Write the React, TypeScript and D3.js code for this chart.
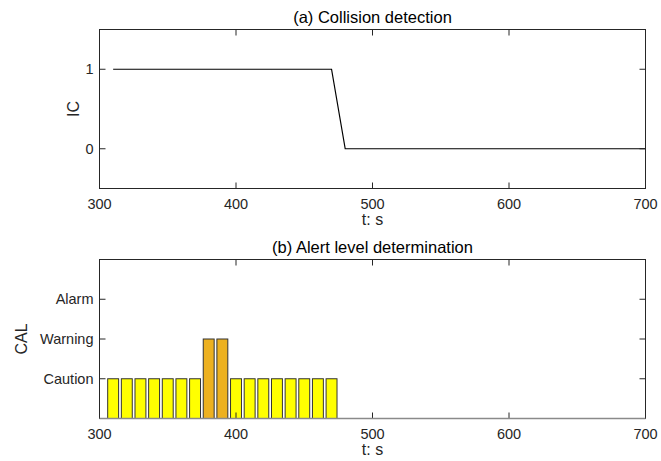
import React from "react";
import * as d3 from "d3";

// ---- Data ----
const icTime = [310, 320, 330, 340, 350, 360, 370, 380, 390, 400, 410, 420, 430, 440, 450, 460, 470, 480, 490, 500, 510, 520, 530, 540, 550, 560, 570, 580, 590, 600, 610, 620, 630, 640, 650, 660, 670, 680, 690, 700];
const icValue = [1, 1, 1, 1, 1, 1, 1, 1, 1, 1, 1, 1, 1, 1, 1, 1, 1, 0, 0, 0, 0, 0, 0, 0, 0, 0, 0, 0, 0, 0, 0, 0, 0, 0, 0, 0, 0, 0, 0, 0];

const calTime = [310, 320, 330, 340, 350, 360, 370, 380, 390, 400, 410, 420, 430, 440, 450, 460, 470];
const calValue = [1, 1, 1, 1, 1, 1, 1, 2, 2, 1, 1, 1, 1, 1, 1, 1, 1];

const xTicks = [300, 400, 500, 600, 700];
const icTicks = [0, 1];
const calTicks = [1, 2, 3];
const calTickLabels = ["Caution", "Warning", "Alarm"];

const titleA = "(a) Collision detection";
const titleB = "(b) Alert level determination";
const xLabel = "t: s";

// ---- Layout ----
const W = 661;
const H = 461;
const LEFT = 99.5;
const RIGHT = 645.5;
const AX = "#262626";
const FONT = "'Liberation Sans', Arial, Helvetica, sans-serif";
const TICK = 6;

const x = d3.scaleLinear().domain([300, 700]).range([LEFT, RIGHT]);
const yTop = d3.scaleLinear().domain([-0.5, 1.5]).range([188.5, 29.5]);
const yBot = d3.scaleLinear().domain([0, 4]).range([418.5, 259.5]);

function Frame({ y, yTicks, yLabels, title, ylabel, ylabelX }: any) {
  const [y0, y1] = y.range();
  return (
    <g>
      <rect x={LEFT} y={y1} width={RIGHT - LEFT} height={y0 - y1} fill="none" stroke={AX} strokeWidth={1} />
      {xTicks.map((t) => (
        <g key={"xt" + t}>
          <line x1={x(t)} x2={x(t)} y1={y0} y2={y0 - TICK} stroke={AX} />
          <line x1={x(t)} x2={x(t)} y1={y1} y2={y1 + TICK} stroke={AX} />
          <text x={x(t)} y={y0 + 20} textAnchor="middle" fontSize={14.5} fill={AX} fontFamily={FONT}>{t}</text>
        </g>
      ))}
      {yTicks.map((v: number, i: number) => (
        <g key={"yt" + v}>
          <line x1={LEFT} x2={LEFT + TICK} y1={y(v)} y2={y(v)} stroke={AX} />
          <line x1={RIGHT} x2={RIGHT - TICK} y1={y(v)} y2={y(v)} stroke={AX} />
          <text x={LEFT - 6} y={y(v)} dy="0.36em" textAnchor="end" fontSize={14.5} fill={AX} fontFamily={FONT}>{yLabels[i]}</text>
        </g>
      ))}
      <text x={(LEFT + RIGHT) / 2} y={y1 - 7} textAnchor="middle" fontSize={16.5} fill="#000" fontFamily={FONT}>{title}</text>
      <text x={(LEFT + RIGHT) / 2} y={y0 + 36} textAnchor="middle" fontSize={16} fill={AX} fontFamily={FONT}>{xLabel}</text>
      <text transform={`translate(${ylabelX},${(y0 + y1) / 2}) rotate(-90)`} textAnchor="middle" fontSize={16} fill={AX} fontFamily={FONT}>{ylabel}</text>
    </g>
  );
}

export default function App() {
  const line = d3.line<number>().x((_, i) => x(icTime[i])).y((d) => yTop(d));
  const barHalf = 4;
  return (
    <svg width={W} height={H} style={{ position: "absolute", left: 0, top: 0, background: "#fff" }}>
      <rect width={W} height={H} fill="#fff" />
      {/* Top panel */}
      <path d={line(icValue) || ""} fill="none" stroke="#000" strokeWidth={1.2} />
      <Frame y={yTop} yTicks={icTicks} yLabels={icTicks.map(String)} title={titleA} ylabel="IC" ylabelX={79} />

      {/* Bottom panel */}
      {calTime.map((t, i) => (
        <rect
          key={"b" + t}
          x={x(t - barHalf)}
          y={yBot(calValue[i])}
          width={x(t + barHalf) - x(t - barHalf)}
          height={yBot(0) - yBot(calValue[i])}
          fill={calValue[i] >= 2 ? "#EDB120" : "#FFFF00"}
          stroke="#333"
          strokeWidth={1}
        />
      ))}
      <Frame y={yBot} yTicks={calTicks} yLabels={calTickLabels} title={titleB} ylabel="CAL" ylabelX={27} />
      <line x1={LEFT} x2={RIGHT} y1={yBot(0)} y2={yBot(0)} stroke="#8a8a8a" strokeWidth={1.3} />
    </svg>
  );
}
